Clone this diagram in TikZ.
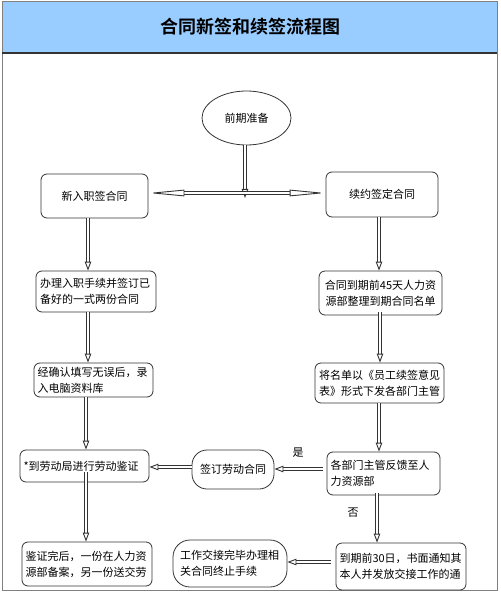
\documentclass[tikz,border=0pt]{standalone}
\usepackage{fontspec}
\newfontfamily\cjk{Noto Sans CJK SC}
\newfontfamily\cjkb{Noto Sans CJK SC Bold}
\usetikzlibrary{arrows.meta,shapes.geometric}
\definecolor{bandblue}{HTML}{99CCFF}
\definecolor{edge}{HTML}{333333}
\tikzset{
  box/.style={draw=edge, line width=0.8pt, rounded corners=6pt, fill=white, inner sep=2pt,
    font=\cjk\fontsize{11}{16}\selectfont, align=left},
  dbl/.style={draw=edge, line width=0.9pt, double=white, double distance=1.3pt,
    -{Triangle[open, length=9pt, width=6.5pt]}},
  lbl/.style={font=\cjk\fontsize{11}{13}\selectfont, inner sep=0pt}
}
\begin{document}
\begin{tikzpicture}[x=1pt,y=-1pt]
\useasboundingbox (0,0) rectangle (500,593);
% frame and title band
\fill[bandblue] (2,2) rectangle (497,53);
\draw[gray, line width=1pt] (2,2) rectangle (497,590);
\draw[edge, line width=1.4pt] (2,53) -- (497,53);
\node[font=\cjkb\fontsize{18}{20}\selectfont] (title) at (250,27) {合同新签和续签流程图};
% nodes
\node[draw=edge, line width=0.8pt, ellipse, minimum width=89pt, minimum height=54pt, inner sep=0pt,
  font=\cjk\fontsize{11}{13}\selectfont] (prep) at (246.5,118) {前期准备};
\node[box, minimum width=107pt, minimum height=44pt, align=center] (l1) at (94.5,196) {新入职签合同};
\node[box, minimum width=120pt, minimum height=41pt, text width=112pt] (l2) at (96,291.5) {办理入职手续并签订已\\备好的一式两份合同};
\node[box, minimum width=119pt, minimum height=34pt, text width=112pt] (l3) at (93.5,380) {经确认填写无误后，录\\入电脑资料库};
\node[box, minimum width=129pt, minimum height=32pt, text width=122pt] (l4) at (84.5,466) {*到劳动局进行劳动鉴证};
\node[box, minimum width=130pt, minimum height=44pt, text width=123pt] (l5) at (87,564) {鉴证完后，一份在人力资\\源部备案，另一份送交劳};
\node[box, minimum width=112pt, minimum height=45pt, align=center] (r1) at (382,194.5) {续约签定合同};
\node[box, minimum width=123pt, minimum height=44pt, align=center] (r2) at (380.5,293) {合同到期前45天人力资\\源部整理到期合同名单};
\node[box, minimum width=129pt, minimum height=40pt, align=center] (r3) at (379.5,383) {将名单以《员工续签意见\\表》形式下发各部门主管};
\node[box, minimum width=113pt, minimum height=43pt, text width=106pt] (r4) at (383.5,473.5) {各部门主管反馈至人\\力资源部};
\node[box, minimum width=130pt, minimum height=47pt, text width=123pt] (r5) at (401,566.5) {到期前30日，书面通知其\\本人并发放交接工作的通};
\node[box, rounded corners=15pt, minimum width=82pt, minimum height=39pt, align=center] (m1) at (233,469.5) {签订劳动合同};
\node[box, rounded corners=17pt, minimum width=114pt, minimum height=47pt, text width=100pt] (m2) at (230,563.5) {工作交接完毕办理相\\关合同终止手续};
% connectors
\coordinate (j) at (245,193);
\draw[dbl] (prep.south -| j) -- ([yshift=-5pt]j);
\draw[dbl, {Triangle[open, length=36pt, width=6.5pt]}-{Triangle[open, length=36pt, width=6.5pt]}] (j -| l1.east) -- (j -| r1.west);
\draw[dbl] (l1.south -| 88,0) -- (l2.north -| 88,0);
\draw[dbl] (l2.south -| 88,0) -- (l3.north -| 88,0);
\draw[dbl] (l3.south -| 86,0) -- (l4.north -| 86,0);
\draw[dbl] ([yshift=10pt]l4.south -| 86,0) -- (l5.north -| 86,0);
\draw[dbl] (r1.south -| 379,0) -- (r2.north -| 379,0);
\draw[dbl] ([yshift=3pt]r2.south -| 380,0) -- (r3.north -| 380,0);
\draw[dbl] (r3.south -| 379,0) -- (r4.north -| 379,0);
\draw[dbl] ([xshift=-4pt]r4.west |- 0,469) -- (m1.east |- 0,469);
\draw[dbl] (m1.west |- 0,467) -- (l4.east |- 0,467);
\draw[dbl] ([yshift=2pt]r4.south -| 377,0) -- (r5.north -| 377,0);
\draw[dbl] ([xshift=-5pt]r5.west |- 0,562) -- (m2.east |- 0,562);
\node[lbl] (yes) at (298,453) {是};
\node[lbl] (no) at (353,513) {否};
\end{tikzpicture}
\end{document}
